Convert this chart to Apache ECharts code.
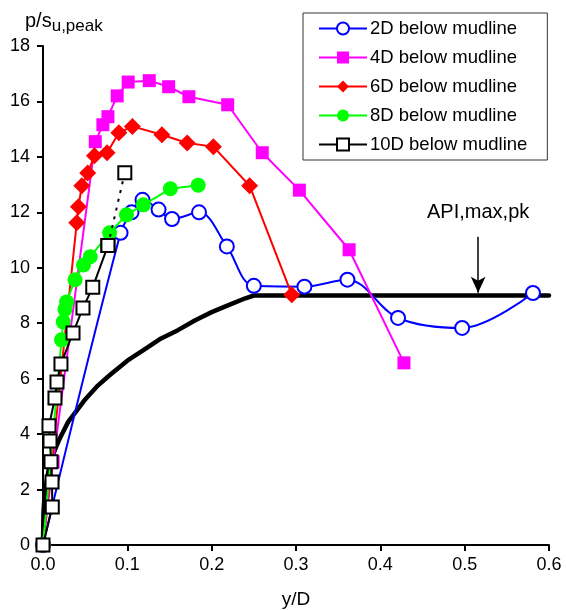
<!DOCTYPE html>
<html>
<head>
<meta charset="utf-8">
<script src="https://cdn.jsdelivr.net/npm/echarts@6/dist/echarts.min.js"></script>
<style>
html,body{margin:0;padding:0;background:#fff;}
#c{width:566px;height:610px;}
</style>
</head>
<body>
<div id="c"></div>
<script>
// ---- data ----
const xTicks = [0.0, 0.1, 0.2, 0.3, 0.4, 0.5, 0.6];
const yTicks = [0, 2, 4, 6, 8, 10, 12, 14, 16, 18];

const d2_x = [0, 0.092, 0.105, 0.118, 0.137, 0.153, 0.185, 0.218, 0.250, 0.310, 0.361, 0.421, 0.497, 0.581];
const d2_y = [0, 11.26, 12.0, 12.45, 12.1, 11.76, 12.0, 10.77, 9.35, 9.32, 9.57, 8.19, 7.83, 9.09];

const d4_x = [0, 0.012, 0.062, 0.071, 0.077, 0.088, 0.101, 0.126, 0.149, 0.173, 0.219, 0.260, 0.304, 0.363, 0.428];
const d4_y = [0, 3.0, 14.55, 15.16, 15.45, 16.2, 16.7, 16.75, 16.53, 16.17, 15.88, 14.15, 12.8, 10.65, 6.57];

const d6_x = [0, 0.040, 0.042, 0.046, 0.053, 0.061, 0.076, 0.090, 0.106, 0.141, 0.171, 0.202, 0.245, 0.295];
const d6_y = [0, 11.62, 12.2, 12.96, 13.42, 14.04, 14.15, 14.87, 15.1, 14.8, 14.5, 14.37, 12.96, 9.03];

const d8_x = [0, 0.022, 0.024, 0.026, 0.028, 0.038, 0.048, 0.056, 0.079, 0.099, 0.119, 0.151, 0.184];
const d8_y = [0, 7.4, 8.05, 8.5, 8.77, 9.57, 10.1, 10.4, 11.26, 11.91, 12.27, 12.85, 12.98];

const d10_x = [0, 0.011, 0.0107, 0.0095, 0.0083, 0.0071, 0.0142, 0.0166, 0.0213, 0.0356, 0.0474, 0.059, 0.077];
const d10_y = [0, 1.37, 2.27, 3.0, 3.75, 4.3, 5.3, 5.88, 6.53, 7.65, 8.55, 9.3, 10.8];
const d10dot_x = [0.077, 0.097];
const d10dot_y = [10.8, 13.43];

const api_x = [0, 0.0005, 0.001, 0.002, 0.004, 0.007, 0.01, 0.015, 0.02, 0.03, 0.04, 0.05, 0.065, 0.08, 0.1, 0.12, 0.14, 0.16, 0.18, 0.2, 0.22, 0.24, 0.25, 0.6];
const api_y = [0, 1.1, 1.4, 1.8, 2.25, 2.75, 3.1, 3.5, 3.85, 4.45, 4.85, 5.25, 5.75, 6.15, 6.65, 7.05, 7.45, 7.75, 8.1, 8.4, 8.65, 8.9, 9.0, 9.0];

const arrow_x = 0.516, arrow_top = 11.12, arrow_tip = 9.1;

const names = ['2D below mudline', '4D below mudline', '6D below mudline', '8D below mudline', '10D below mudline'];

const pairs = (xs, ys) => xs.map((x, i) => [x, ys[i]]);
const FONT = 'Liberation Sans, Arial, sans-serif';

const chart = echarts.init(document.getElementById('c'), null, {renderer: 'canvas'});
chart.setOption({
  animation: false,
  backgroundColor: '#fff',
  textStyle: {fontFamily: FONT, color: '#000'},
  title: {
    text: '{a|p/s}{b|u,peak}',
    left: 20, top: 6,
    textStyle: {
      fontWeight: 'normal',
      rich: {
        a: {fontSize: 20, fontFamily: FONT, fontWeight: 'normal', color: '#000', verticalAlign: 'bottom'},
        b: {fontSize: 17, fontFamily: FONT, fontWeight: 'normal', color: '#000', verticalAlign: 'bottom', padding: [0, 0, -4, 0]}
      }
    }
  },
  grid: {left: 43, right: 17, top: 46, bottom: 65, containLabel: false, outerBoundsMode: 'none'},
  legend: {
    data: names,
    orient: 'vertical',
    left: 303, top: 13,
    itemWidth: 48, itemHeight: 15,
    itemGap: 10,
    padding: [6, 20, 6, 15],
    borderColor: '#333', borderWidth: 1,
    backgroundColor: '#fff',
    textStyle: {fontSize: 18.5, fontFamily: FONT, color: '#000', padding: [0, 0, 0, -2]}
  },
  xAxis: {
    type: 'value', min: xTicks[0], max: xTicks[xTicks.length - 1], interval: 0.1,
    name: 'y/D', nameLocation: 'middle', nameGap: 45,
    nameTextStyle: {fontSize: 19, fontFamily: FONT, color: '#000'},
    axisLine: {show: true, onZero: false, lineStyle: {color: '#000', width: 2}},
    axisTick: {show: true, inside: false, length: 6, lineStyle: {color: '#000', width: 2}},
    axisLabel: {fontSize: 18, fontFamily: FONT, color: '#000', margin: 11, formatter: v => v.toFixed(1)},
    splitLine: {show: false}
  },
  yAxis: {
    type: 'value', min: yTicks[0], max: yTicks[yTicks.length - 1], interval: 2,
    axisLine: {show: true, onZero: false, lineStyle: {color: '#000', width: 2}},
    axisTick: {show: true, inside: false, length: 6, lineStyle: {color: '#000', width: 2}},
    axisLabel: {fontSize: 18, fontFamily: FONT, color: '#000', margin: 13},
    splitLine: {show: false}
  },
  series: [
    {
      name: 'API', type: 'line', data: pairs(api_x, api_y),
      showSymbol: false, symbol: 'none', smooth: false,
      lineStyle: {color: '#000', width: 4.5, cap: 'round', join: 'round'},
      itemStyle: {color: '#000'}, z: 2,
      markLine: {
        silent: true, animation: false,
        lineStyle: {color: '#000', width: 1.5, type: 'solid'},
        symbolSize: [11, 16],
        label: {show: true, position: 'start', distance: 14, formatter: 'API,max,pk', fontSize: 20, fontFamily: FONT, color: '#000'},
        data: [[{coord: [arrow_x, arrow_top], symbol: 'none'}, {coord: [arrow_x, arrow_tip], symbol: 'arrow'}]]
      }
    },
    {
      name: names[0], type: 'line', data: pairs(d2_x, d2_y),
      smooth: 0.35, symbol: 'circle', symbolSize: 14,
      lineStyle: {color: '#0000FF', width: 2},
      itemStyle: {color: '#fff', borderColor: '#0000FF', borderWidth: 2}, z: 3
    },
    {
      name: names[1], type: 'line', data: pairs(d4_x, d4_y),
      symbol: 'rect', symbolSize: 13,
      lineStyle: {color: '#FF00FF', width: 2},
      itemStyle: {color: '#FF00FF'}, z: 4
    },
    {
      name: names[2], type: 'line', data: pairs(d6_x, d6_y),
      symbol: 'diamond', symbolSize: 17,
      lineStyle: {color: '#FF0000', width: 2},
      itemStyle: {color: '#FF0000'}, z: 5
    },
    {
      name: names[3], type: 'line', data: pairs(d8_x, d8_y),
      symbol: 'circle', symbolSize: 15,
      lineStyle: {color: '#00FF00', width: 2},
      itemStyle: {color: '#00FF00'}, z: 6
    },
    {
      name: names[4], type: 'line', data: pairs(d10_x, d10_y),
      symbol: 'rect', symbolSize: 13,
      lineStyle: {color: '#000', width: 2},
      itemStyle: {color: '#fff', borderColor: '#000', borderWidth: 2}, z: 7
    },
    {
      name: '10D dotted', type: 'line', data: pairs(d10dot_x, d10dot_y),
      symbol: 'rect', symbolSize: 13,
      lineStyle: {color: '#000', width: 2, type: [3, 6]},
      itemStyle: {color: '#fff', borderColor: '#000', borderWidth: 2}, z: 7
    }
  ]
});
</script>
</body>
</html>
